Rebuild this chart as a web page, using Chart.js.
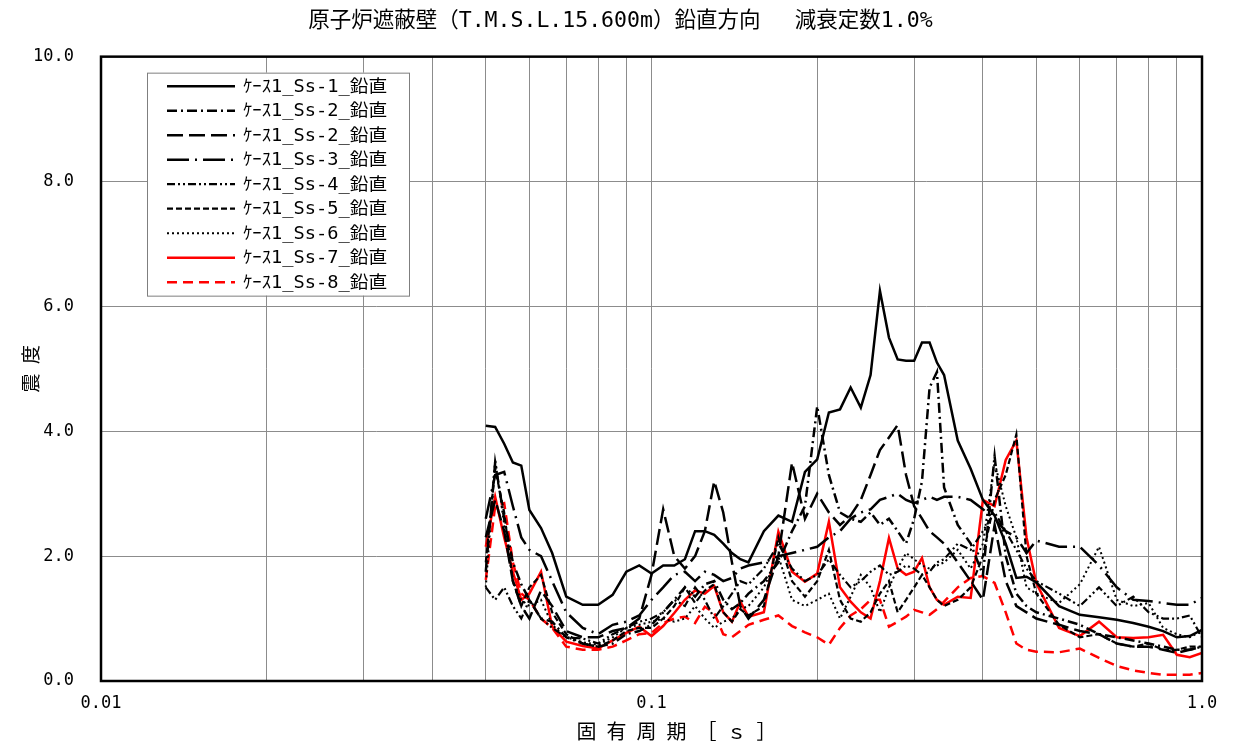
<!DOCTYPE html>
<html><head><meta charset="utf-8">
<script src="https://cdn.jsdelivr.net/npm/chart.js@4.4.1/dist/chart.umd.min.js"></script>
<style>html,body{margin:0;padding:0;background:#fff}canvas{display:block}</style>
</head><body><canvas id="c" width="1234" height="747"></canvas>
<script>
const periods = [0.05,0.052,0.054,0.056,0.058,0.06,0.063,0.066,0.07,0.075,0.08,0.085,0.09,0.095,0.1,0.105,0.11,0.115,0.12,0.125,0.13,0.135,0.14,0.145,0.15,0.16,0.17,0.18,0.19,0.2,0.21,0.22,0.23,0.24,0.25,0.26,0.27,0.28,0.29,0.3,0.31,0.32,0.33,0.34,0.36,0.38,0.4,0.42,0.44,0.46,0.48,0.5,0.55,0.6,0.65,0.7,0.75,0.8,0.85,0.9,0.95,1.0];

const ss1 = [4.09,4.07,3.8,3.5,3.45,2.74,2.45,2.05,1.35,1.22,1.22,1.38,1.75,1.85,1.72,1.85,1.85,1.95,2.4,2.4,2.34,2.2,2.05,1.95,1.9,2.4,2.65,2.55,3.35,3.55,4.3,4.35,4.7,4.38,4.9,6.25,5.5,5.15,5.13,5.13,5.42,5.42,5.1,4.9,3.85,3.4,2.9,2.65,2.2,1.65,1.67,1.58,1.2,1.06,1.02,0.98,0.93,0.87,0.8,0.7,0.72,0.82];
const ss2a = [1.75,3.5,2.6,1.9,1.55,1.3,1.0,0.95,0.7,0.6,0.55,0.6,0.75,0.8,0.9,1.1,1.3,1.5,1.35,1.55,1.6,1.3,1.15,1.25,1.4,1.6,1.9,2.4,2.8,4.4,3.3,2.7,2.6,2.55,2.7,2.5,2.6,2.4,2.2,2.6,3.2,4.7,4.95,3.1,2.5,2.2,1.7,3.6,2.0,1.4,1.2,1.1,1.0,0.9,0.75,0.7,0.65,0.6,0.55,0.5,0.5,0.55];
const ss2b = [2.3,2.9,2.4,1.6,1.2,1.0,1.45,1.2,0.8,0.7,0.7,0.8,0.85,1.0,1.7,2.75,2.0,1.8,2.0,2.4,3.2,2.7,1.9,1.2,1.0,1.3,2.0,3.5,2.6,3.0,2.7,2.5,2.65,2.9,3.3,3.7,3.9,4.1,3.3,2.8,2.6,2.4,2.3,2.2,1.9,1.6,1.3,2.5,1.6,1.2,1.1,1.0,0.9,0.8,0.75,0.6,0.55,0.55,0.5,0.45,0.5,0.55];
const ss3 = [2.6,3.3,3.35,2.8,2.3,2.1,2.0,1.6,1.1,0.85,0.75,0.9,0.95,1.05,1.3,1.5,1.7,1.75,1.6,1.75,1.7,1.6,1.65,1.8,1.85,1.9,2.0,2.05,2.1,2.15,2.3,2.4,2.6,2.7,2.75,2.9,2.95,3.0,2.9,2.85,2.9,2.95,2.9,2.95,2.95,2.9,2.75,2.6,2.4,2.3,2.05,2.25,2.15,2.15,1.85,1.5,1.3,1.28,1.25,1.22,1.22,1.33];
const ss4 = [1.5,1.3,1.5,1.2,1.0,1.3,1.0,0.85,0.7,0.68,0.6,0.75,0.85,0.95,1.0,1.1,1.3,1.2,1.5,1.3,1.0,1.2,1.4,1.6,1.55,1.8,2.2,1.8,1.6,1.7,1.95,1.7,1.5,1.6,1.75,1.85,1.7,1.75,1.85,1.8,1.7,1.75,1.9,1.95,2.2,2.1,2.4,2.7,2.4,2.1,1.8,1.6,1.4,1.2,1.5,1.2,1.35,1.1,1.0,1.0,1.05,0.7];
const ss5 = [1.9,3.4,2.7,1.6,1.2,1.5,1.7,1.1,0.75,0.6,0.55,0.65,0.8,0.85,0.85,1.0,1.2,1.5,1.25,1.45,1.55,1.1,0.95,1.15,1.05,1.2,2.3,1.6,1.35,1.6,2.1,1.3,1.0,0.95,1.1,1.4,1.6,1.1,1.3,1.5,1.7,1.5,1.3,1.2,1.3,1.5,2.0,2.9,3.3,3.95,2.0,1.4,0.9,0.7,0.75,0.6,0.55,0.6,0.5,0.5,0.55,0.55];
const ss6 = [1.5,3.55,2.5,1.6,1.3,1.2,1.3,0.9,0.7,0.62,0.58,0.7,0.85,0.9,0.95,1.0,0.95,1.0,1.2,1.0,0.85,0.95,1.0,1.15,1.2,1.5,2.0,1.3,1.2,1.3,1.4,1.0,1.35,1.7,1.5,1.1,1.5,1.8,2.05,1.95,1.85,1.8,1.85,1.9,2.1,1.8,2.2,3.5,2.8,2.3,1.5,1.4,1.25,1.55,2.15,1.3,1.2,1.25,0.85,0.75,0.7,0.8];
const ss7 = [2.15,2.95,2.3,1.75,1.3,1.4,1.75,0.87,0.63,0.56,0.52,0.65,0.77,0.87,0.72,0.88,1.09,1.3,1.45,1.4,1.52,1.1,0.95,1.27,1.03,1.1,2.39,1.75,1.59,1.72,2.55,1.5,1.27,1.1,1.0,1.6,2.29,1.8,1.7,1.75,1.97,1.5,1.3,1.22,1.35,1.33,2.9,2.8,3.54,3.85,2.3,1.57,0.85,0.72,0.95,0.7,0.69,0.7,0.74,0.42,0.38,0.45];
const ss8 = [1.62,2.8,2.85,1.9,1.4,1.3,1.0,0.85,0.55,0.5,0.5,0.55,0.65,0.75,0.77,0.93,1.0,1.03,0.93,1.19,1.09,0.75,0.7,0.8,0.9,0.98,1.05,0.88,0.78,0.7,0.58,0.85,1.05,1.15,1.3,1.3,0.87,0.95,1.03,1.14,1.1,1.06,1.15,1.27,1.5,1.65,1.68,1.57,1.1,0.6,0.5,0.47,0.46,0.52,0.37,0.24,0.17,0.13,0.1,0.1,0.1,0.13];

const seriesLabels = ['ｹｰｽ1_Ss-1_鉛直','ｹｰｽ1_Ss-2_鉛直','ｹｰｽ1_Ss-2_鉛直','ｹｰｽ1_Ss-3_鉛直','ｹｰｽ1_Ss-4_鉛直','ｹｰｽ1_Ss-5_鉛直','ｹｰｽ1_Ss-6_鉛直','ｹｰｽ1_Ss-7_鉛直','ｹｰｽ1_Ss-8_鉛直'];
const xGridValues = [0.01,0.02,0.03,0.04,0.05,0.06,0.07,0.08,0.09,0.1,0.2,0.3,0.4,0.5,0.6,0.7,0.8,0.9,1];
const xTickLabels = {'0.01':'0.01','0.1':'0.1','1':'1.0'};
const yTickValues = [0,2,4,6,8,10];

const TITLE = '   原子炉遮蔽壁（T.M.S.L.15.600m）鉛直方向　 減衰定数1.0%';
const X_TITLE = '     固 有 周 期 ［ ｓ ］';
const Y_TITLE = '震 度';
const FONT = '"Noto Sans Mono CJK JP", "Noto Sans CJK JP", "DejaVu Sans Mono", monospace';
const WIDE = '"DejaVu Sans Mono", "Noto Sans CJK JP", monospace';

const styles = [
  {values: ss1, color:'#000', width:2.5, dash:[]},
  {values: ss2a, color:'#000', width:2.5, dash:[10,4,2,4]},
  {values: ss2b, color:'#000', width:2.5, dash:[16,6]},
  {values: ss3, color:'#000', width:2.5, dash:[22,6,2,6]},
  {values: ss4, color:'#000', width:2.2, dash:[8,3,2,3,2,3]},
  {values: ss5, color:'#000', width:2.2, dash:[6,3]},
  {values: ss6, color:'#000', width:2, dash:[2,3]},
  {values: ss7, color:'#ff0000', width:2.5, dash:[]},
  {values: ss8, color:'#ff0000', width:2.5, dash:[10,6]}
];

const framePlugin = {
  id:'frame',
  afterDatasetsDraw(chart){
    const {ctx, chartArea:a} = chart;
    ctx.save();
    ctx.strokeStyle = '#000';
    ctx.lineWidth = 2.5;
    ctx.strokeRect(a.left, a.top, a.right - a.left, a.bottom - a.top);
    ctx.restore();
  }
};

const boxLegend = {
  id:'boxLegend',
  afterDraw(chart){
    const {ctx, chartArea:a} = chart;
    const bx = a.left + 46, by = a.top + 16, bw = 262, bh = 223;
    ctx.save();
    ctx.fillStyle = '#fff';
    ctx.fillRect(bx, by, bw, bh);
    ctx.strokeStyle = '#7f7f7f';
    ctx.lineWidth = 1;
    ctx.strokeRect(bx + 0.5, by + 0.5, bw, bh);
    chart.data.datasets.forEach((ds, i) => {
      const y = by + 13.5 + i * 24.5;
      ctx.beginPath();
      ctx.setLineDash(ds.borderDash || []);
      ctx.strokeStyle = ds.borderColor;
      ctx.lineWidth = ds.borderWidth;
      ctx.moveTo(bx + 20, y);
      ctx.lineTo(bx + 88, y);
      ctx.stroke();
      ctx.setLineDash([]);
      ctx.fillStyle = '#000';
      ctx.font = '17px ' + WIDE;
      ctx.textBaseline = 'middle';
      ctx.textAlign = 'left';
      ctx.save();
      ctx.translate(bx + 96, y + 1);
      ctx.scale(1.1, 1);
      ctx.fillText(ds.label, 0, 0);
      ctx.restore();
    });
    ctx.restore();
  }
};

new Chart(document.getElementById('c').getContext('2d'), {
  type:'line',
  data:{
    datasets: styles.map((s, k) => ({
      label: seriesLabels[k],
      data: periods.map((p, i) => ({x:p, y:s.values[i]})),
      borderColor: s.color,
      borderWidth: s.width,
      borderDash: s.dash,
      pointRadius: 0,
      fill: false,
      tension: 0
    }))
  },
  options:{
    responsive:false,
    animation:false,
    devicePixelRatio:1,
    layout:{padding:{left:0,right:32,top:0,bottom:0}},
    plugins:{
      legend:{display:false},
      tooltip:{enabled:false},
      title:{display:true,text:TITLE,color:'#000',font:{family:WIDE,size:21.5,weight:'normal',lineHeight:1.1},padding:{top:10,bottom:23}}
    },
    scales:{
      x:{
        type:'logarithmic', min:0.01, max:1,
        afterBuildTicks:(s)=>{ s.ticks = xGridValues.map(v=>({value:v})); },
        afterFit:(s)=>{ s.height = 66; },
        ticks:{autoSkip:false,maxRotation:0,padding:12,color:'#000',font:{family:WIDE,size:17},
          callback:(v)=> xTickLabels[String(v)] ?? ''},
        grid:{color:'#8c8c8c',lineWidth:1,drawTicks:false},
        border:{display:false},
        title:{display:true,text:X_TITLE,color:'#000',font:{family:FONT,size:20},padding:{top:0,bottom:4}}
      },
      y:{
        min:0, max:10,
        afterBuildTicks:(s)=>{ s.ticks = yTickValues.map(v=>({value:v})); },
        afterFit:(s)=>{ s.width = 101; },
        ticks:{padding:27,color:'#000',font:{family:WIDE,size:17},callback:(v)=>Number(v).toFixed(1)},
        grid:{color:'#8c8c8c',lineWidth:1,drawTicks:false},
        border:{display:false},
        title:{display:true,text:Y_TITLE,color:'#000',font:{family:FONT,size:19},padding:{top:19,bottom:0}}
      }
    }
  },
  plugins:[framePlugin, boxLegend]
});
</script>
</body></html>
